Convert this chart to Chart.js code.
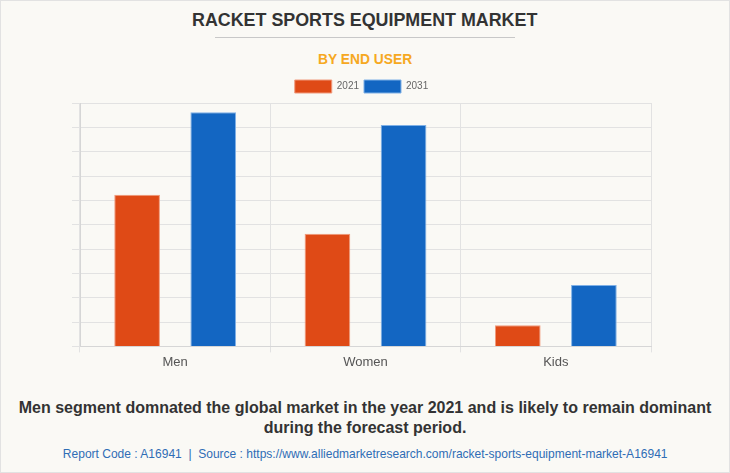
<!DOCTYPE html>
<html>
<head>
<meta charset="utf-8">
<script src="https://cdn.jsdelivr.net/npm/chart.js@4.4.0/dist/chart.umd.min.js"></script>
<style>
body { margin:0; background:#fff; }
#frame { position:relative; width:728px; height:471px; border:1px solid #e2e2e2; background:#faf9f5; overflow:hidden; font-family:"Liberation Sans",Arial,sans-serif; }
.line { position:absolute; left:0; width:728px; text-align:center; }
.line span { display:inline-block; }
#title { top:8px; font-size:19px; font-weight:bold; color:#333; }
#title span { transform:scaleX(0.94); }
#rule { position:absolute; top:36px; left:214px; width:300px; height:1px; background:#c8c8c8; }
#sub { top:49px; font-size:15px; font-weight:bold; color:#f6a821; }
#sub span { transform:scaleX(0.92); }
#chartbox { position:absolute; top:72px; left:0; width:728px; height:300px; }
#note { top:397px; font-size:16px; font-weight:bold; color:#333; line-height:20px; }
#src { top:445px; font-size:13px; color:#2f6db5; }
#src span { transform:scaleX(0.924); white-space:nowrap; }
</style>
</head>
<body>
<div id="frame">
  <div id="title" class="line"><span>RACKET SPORTS EQUIPMENT MARKET</span></div>
  <div id="rule"></div>
  <div id="sub" class="line"><span>BY END USER</span></div>
  <div id="chartbox"><canvas id="market_chart"></canvas></div>
  <div id="note" class="line">Men segment domnated the global market in the year 2021 and is likely to remain dominant<br>during the forecast period.</div>
  <div id="src" class="line"><span>Report Code : A16941&nbsp; |&nbsp; Source : https://www.alliedmarketresearch.com/racket-sports-equipment-market-A16941</span></div>
</div>
<script>
// values (no axis labels shown, scale 0..10)
let categories = ['Men', 'Women', 'Kids'] ;
let seriesLabels = ['2021', '2031'] ;
let values2021 = [6.23, 4.63, 0.87] ;
let values2031 = [9.62, 9.10, 2.52] ;
let yMax = 10 ;
let yStep = 1 ;

let ctx = document.getElementById('market_chart').getContext('2d') ;
let market_chart = new Chart(ctx, {
    type: 'bar',
    data: {
        labels: categories,
        datasets: [
            {
                label: seriesLabels[0],
                data: values2021,
                backgroundColor: '#df4a16',
                borderColor: '#f09a7c',
                borderWidth: 1,
                categoryPercentage: 0.8,
                barPercentage: 0.6,
            },
            {
                label: seriesLabels[1],
                data: values2031,
                backgroundColor: '#1366c2',
                borderColor: '#7fb0e6',
                borderWidth: 1,
                categoryPercentage: 0.8,
                barPercentage: 0.6,
            },
        ]
    },
    options: {
        responsive: true,
        maintainAspectRatio: false,
        animation: false,
        layout: { padding: { left: 71, right: 78, top: 2, bottom: 1 } },
        plugins: {
            legend: {
                display: true,
                position: 'top',
                labels: {
                    boxWidth: 37,
                    boxHeight: 13,
                    padding: 5,
                    color: '#666',
                    font: { family: '"Liberation Sans",Arial,sans-serif', size: 10 }
                }
            },
            tooltip: { enabled: false }
        },
        scales: {
            x: {
                grid: { color: '#e2e2e2', tickLength: 6, offset: true },
                border: { color: '#d6d6d6' },
                ticks: {
                    color: '#555',
                    padding: 2,
                    font: { family: '"Liberation Sans",Arial,sans-serif', size: 13 }
                }
            },
            y: {
                min: 0,
                max: yMax,
                ticks: { display: false, stepSize: yStep },
                grid: { color: '#e2e2e2', tickLength: 8 },
                border: { color: '#d6d6d6' }
            }
        }
    }
}) ;
</script>
</body>
</html>
